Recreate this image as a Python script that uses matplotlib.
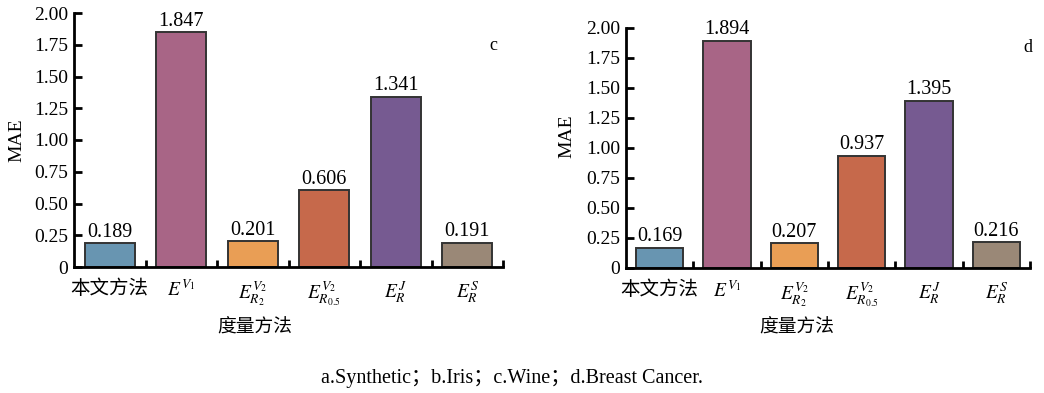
import matplotlib
matplotlib.use("Agg")
import matplotlib.pyplot as plt
from matplotlib.ticker import FixedLocator, FuncFormatter

plt.rcParams["font.family"] = ["Liberation Serif", "Noto Sans CJK SC"]
plt.rcParams["mathtext.fontset"] = "stix"

# ---------------------------------------------------------------------------
# Data
# ---------------------------------------------------------------------------
methods = ["本文方法", r"$E^{V_1}$", r"$E^{V_2}_{R_2}$", r"$E^{V_2}_{R_{0.5}}$",
           r"$E^{J}_{R}$", r"$E^{S}_{R}$"]
mae_wine = [0.189, 1.847, 0.201, 0.606, 1.341, 0.191]
mae_breast = [0.169, 1.894, 0.207, 0.937, 1.395, 0.216]
bar_colors = ["#6895b1", "#a86586", "#e99e55", "#c6694b", "#765a91", "#9a8877"]
y_ticks = [0, 0.25, 0.5, 0.75, 1.0, 1.25, 1.5, 1.75, 2.0]
caption = "a.Synthetic；b.Iris；c.Wine；d.Breast Cancer."

FIG_W, FIG_H = 1044, 393


def fmt_y(v, _):
    return "0" if v == 0 else f"{v:.2f}"


def draw_panel(ax, values, tag, tag_xy, xlabel_x):
    x = range(len(values))
    bars = ax.bar(x, values, width=0.7, color=bar_colors,
                  edgecolor="#333333", linewidth=1.4)
    for b, v in zip(bars, values):
        ax.annotate(f"{v:.3f}", (b.get_x() + b.get_width() / 2, v),
                    xytext=(0, 1), textcoords="offset points",
                    ha="center", va="bottom", fontsize=14.5)

    ax.set_xlim(-0.5, len(values) - 0.5)
    ax.set_ylim(0, 2.0)
    ax.yaxis.set_major_locator(FixedLocator(y_ticks))
    ax.yaxis.set_major_formatter(FuncFormatter(fmt_y))

    ax.set_xticks(list(x))
    ax.set_xticklabels(methods)
    for lbl in ax.get_xticklabels():
        lbl.set_fontsize(14 if lbl.get_text() == "本文方法" else 14)
    ax.xaxis.set_minor_locator(FixedLocator([i + 0.5 for i in x]))
    ax.tick_params(axis="x", which="major", length=0, pad=9)
    ax.tick_params(axis="x", which="minor", direction="in", length=5, width=2)
    ax.tick_params(axis="y", direction="in", length=6, width=2, labelsize=14, pad=4)

    for s in ["top", "right"]:
        ax.spines[s].set_visible(False)
    for s in ["left", "bottom"]:
        ax.spines[s].set_linewidth(2)

    ax.set_ylabel("MAE", fontsize=14)
    ax.yaxis.set_label_coords(-0.113, 0.5)

    ax.figure.text(xlabel_x / FIG_W, 1 - 328 / FIG_H, "度量方法",
                   ha="center", va="center", fontsize=13.5)
    ax.figure.text(tag_xy[0] / FIG_W, 1 - tag_xy[1] / FIG_H, tag,
                   ha="center", va="center", fontsize=13)


fig = plt.figure(figsize=(FIG_W / 100, FIG_H / 100), dpi=100)

ax_c = fig.add_axes([74 / FIG_W, 1 - 267 / FIG_H, (503 - 74) / FIG_W, (267 - 13) / FIG_H])
draw_panel(ax_c, mae_wine, "c", (493, 46), 255)

ax_d = fig.add_axes([626 / FIG_W, 1 - 268 / FIG_H, (1030 - 626) / FIG_W, (268 - 28) / FIG_H])
draw_panel(ax_d, mae_breast, "d", (1028, 48), 797)
ax_d.yaxis.set_label_coords(-0.125, 0.55)

fig.text(512 / FIG_W, 1 - 379 / FIG_H, caption, ha="center", va="center", fontsize=14.5)

fig.savefig("out.png", dpi=100)
